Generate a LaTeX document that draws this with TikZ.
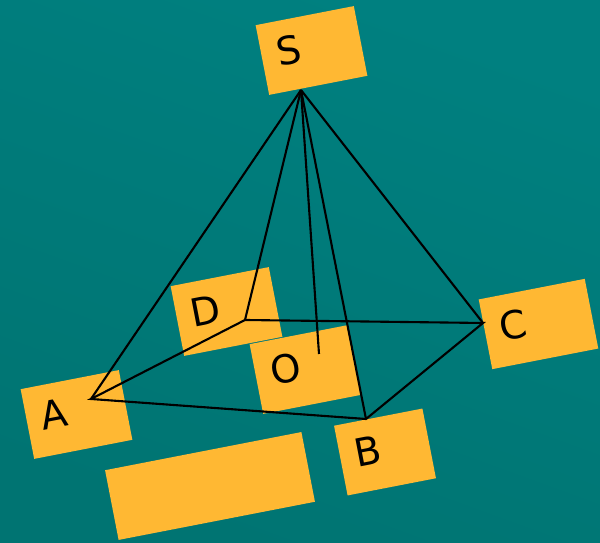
\documentclass[tikz,border=0pt]{standalone}
\usepackage{fontspec}
\setmainfont{DejaVu Sans}
\definecolor{teallow}{RGB}{0,116,114}
\definecolor{tealtop}{RGB}{0,128,128}
\definecolor{padfill}{RGB}{255,184,51}
\tikzset{
    pad/.style={fill=padfill, rotate=11, inner xsep=0.3cm, inner ysep=0pt, minimum height=1.42cm, text width=#1, text depth=0.18cm, align=left,
        font=\fontsize{22}{24}\selectfont},
    pad/.default=1.4cm,
    edge/.style={line width=1.2pt, color=black, line join=miter}
}
\begin{document}
\begin{tikzpicture}
    \useasboundingbox (0,0) rectangle (12,10.86);
    \shade[bottom color=teallow, top color=tealtop, shading angle=-20] (0,0) rectangle (12,10.86);

    \node[pad] (padS) at (6.23,9.85) {S};
    \node[pad] (padA) at (1.53,2.57) {A};
    \node[pad] (padD) at (4.53,4.63) {D};
    \node[pad] (padO) at (6.11,3.47) {O};
    \node[pad=1.56cm] (padC) at (10.77,4.38) {C};
    \node[pad=1.2cm] (padB) at (7.70,1.82) {B};
    \node[pad=3.4cm] (padE) at (4.20,1.14) {};

    \coordinate (S) at (6.02,9.06);
    \coordinate (A) at (1.82,2.88);
    \coordinate (B) at (7.32,2.48);
    \coordinate (C) at (9.66,4.40);
    \coordinate (D) at (4.90,4.46);
    \coordinate (O) at (6.38,3.78);

    \foreach \v in {A,B,C,D,O}
    \draw[edge] (S) -- (\v);
    \draw[edge] (A) -- (B) -- (C) -- (D) -- cycle;
\end{tikzpicture}
\end{document}
